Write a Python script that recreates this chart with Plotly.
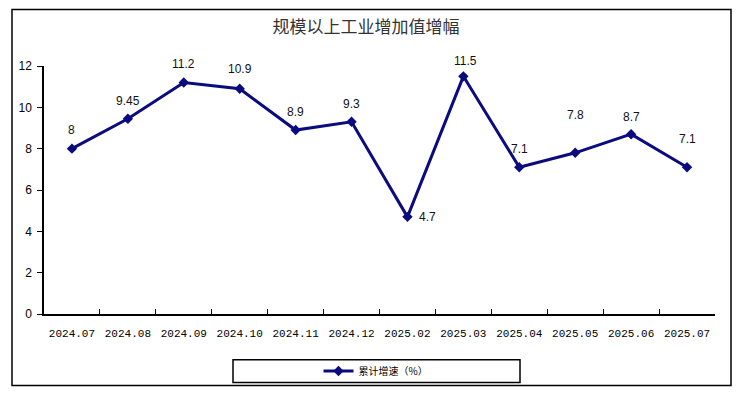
import plotly.graph_objects as go

months = ["2024.07", "2024.08", "2024.09", "2024.10", "2024.11", "2024.12",
          "2025.02", "2025.03", "2025.04", "2025.05", "2025.06", "2025.07"]
growth = [8, 9.45, 11.2, 10.9, 8.9, 9.3, 4.7, 11.5, 7.1, 7.8, 8.7, 7.1]
label_text = ["8", "9.45", "11.2", "10.9", "8.9", "9.3", "4.7", "11.5", "7.1", "7.8", "8.7", "7.1"]
series_name = "累计增速（%）"
title_text = "规模以上工业增加值增幅"

# label offsets (style only)
label_dx = [0, 0, 0, 0, 0, 0, 20, 2, 0, 0, 0, 0]
label_dy = [19, 18, 19, 20, 18, 18, 0, 15, 18, 38, 17, 28]

W, H = 742, 398
L, R, T, B = 44, 27, 66, 82
pw, ph = W - L - R, H - T - B

def px(x):
    return (x - L) / pw

def py(y):
    return (H - B - y) / ph

fig = go.Figure()
fig.add_trace(go.Scatter(
    x=months, y=growth, mode="lines+markers", name=series_name,
    line=dict(color="#0b0b80", width=3),
    marker=dict(symbol="diamond", size=8, color="#0b0b80"),
))

for i, (v, t) in enumerate(zip(growth, label_text)):
    fig.add_annotation(x=i, y=v, xref="x", yref="y", text=t, showarrow=False,
                       xshift=label_dx[i], yshift=label_dy[i],
                       font=dict(family="Liberation Sans, Arial", size=12, color="#111111"))

fig.add_shape(type="rect", xref="paper", yref="paper",
              x0=px(12), x1=px(731), y0=py(388), y1=py(9),
              line=dict(color="black", width=1.5), layer="below")
fig.add_shape(type="rect", xref="paper", yref="paper",
              x0=px(233), x1=px(520), y0=py(385), y1=py(362),
              line=dict(color="black", width=1.5), layer="below")

fig.update_layout(
    width=W, height=H,
    margin=dict(l=L, r=R, t=T, b=B),
    paper_bgcolor="white", plot_bgcolor="white",
    title=dict(text=title_text, x=px(375), xanchor="center", y=1 - 27 / H, yanchor="middle",
               font=dict(family="Noto Sans CJK SC", size=17, color="#333333")),
    showlegend=True,
    legend=dict(x=px(376), y=py(373.5), xanchor="center", yanchor="middle",
                orientation="h", bgcolor="rgba(0,0,0,0)",
                font=dict(family="Noto Sans CJK SC", size=10, color="black")),
    xaxis=dict(type="category", range=[-0.5, 11.5], showline=True, linecolor="black",
               linewidth=1.5, ticks="inside", ticklen=5, tickcolor="black",
               tickson="boundaries", showgrid=False, ticklabelstandoff=8,
               tickfont=dict(family="Liberation Mono, DejaVu Sans Mono", size=11, color="black")),
    yaxis=dict(range=[0, 12], dtick=2, showline=True, linecolor="black", linewidth=1.5,
               ticks="outside", ticklen=5, tickcolor="black", showgrid=False, zeroline=False,
               ticklabelstandoff=3,
               tickfont=dict(family="Liberation Sans, Arial", size=12, color="black")),
)

fig.write_html("out.html", config={"displayModeBar": False},
               post_script="document.body.style.margin='0';")
